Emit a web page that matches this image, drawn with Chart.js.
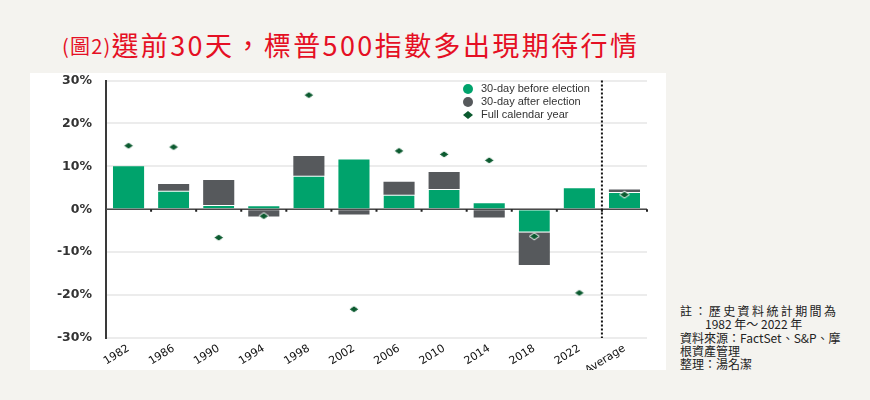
<!DOCTYPE html>
<html>
<head>
<meta charset="utf-8">
<script src="https://cdn.jsdelivr.net/npm/chart.js@4.4.1/dist/chart.umd.min.js"></script>
<style>
  html, body { margin: 0; padding: 0; }
  body {
    width: 870px; height: 400px; overflow: hidden; position: relative;
    background: #f4f3ef; font-family: "Noto Sans CJK TC", sans-serif;
  }
  #title {
    position: absolute; left: 62px; top: 31px; white-space: nowrap;
    color: #e50f24; font-size: 27px; line-height: 27px; letter-spacing: 2.4px; font-weight: 400;
  }
  #title .fig { font-size: 20px; letter-spacing: 1.2px; vertical-align: 2px; }
  #panel { position: absolute; left: 30px; top: 73px; width: 636px; height: 297px; background: #fff; }
  #chartBox { position: absolute; left: 0; top: -14px; width: 636px; height: 311px; }
  #legend {
    position: absolute; left: 433px; top: 9px;
    font: 11px "Liberation Sans", Arial, sans-serif; color: #333;
  }
  #legend div { height: 13px; line-height: 13px; display: flex; align-items: center; }
  #legend .dot { width: 10px; height: 10px; border-radius: 50%; margin-right: 8px; }
  #legend svg { margin-right: 8px; }
  #note {
    position: absolute; left: 680px; top: 304px;
    font-size: 12px; line-height: 13.3px; color: #222; white-space: nowrap;
  }
  #note .l1 { letter-spacing: 2.4px; }
  #note .l2 { padding-left: 25px; }
</style>
</head>
<body>
<div id="title"><span class="fig">(圖2)</span>選前30天，標普500指數多出現期待行情</div>
<div id="panel">
  <div id="chartBox"><canvas id="electionChart"></canvas></div>
  <div id="legend"></div>
</div>
<div id="note">
  <div class="l1">註：歷史資料統計期間為</div>
  <div class="l2">1982 年～ 2022 年</div>
  <div>資料來源：FactSet、S&amp;P、摩</div>
  <div>根資產管理</div>
  <div>整理：湯名潔</div>
</div>
<script>
// S&P 500 returns around US midterm elections (%)
const years = ["1982", "1986", "1990", "1994", "1998", "2002", "2006", "2010", "2014", "2018", "2022", "Average"];
const before = [10.0, 4.3, 1.0, 0.7, 7.8, 11.6, 3.4, 4.7, 1.4, -5.4, 4.9, 4.0];
const after = [0, 1.6, 5.8, -1.7, 4.6, -1.2, 3.0, 4.0, -1.9, -7.6, 0, 0.6];
const fullYear = [14.8, 14.5, -6.6, -1.6, 26.6, -23.3, 13.6, 12.8, 11.4, -6.3, -19.5, 3.4];
const yTicks = [-30, -20, -10, 0, 10, 20, 30];

const labels = ["30-day before election", "30-day after election", "Full calendar year"];
const greenColor = "#00a36c";
const grayColor = "#56595c";
const diamondColor = "#0b5a2f";

// flattened diamond marker
function makeDiamond(w, h, fill, stroke) {
  const c = document.createElement("canvas");
  c.width = w + 2;
  c.height = h + 2;
  const g = c.getContext("2d");
  g.beginPath();
  g.moveTo(c.width / 2, 1);
  g.lineTo(c.width - 1, c.height / 2);
  g.lineTo(c.width / 2, c.height - 1);
  g.lineTo(1, c.height / 2);
  g.closePath();
  g.fillStyle = fill;
  g.fill();
  if (stroke) {
    g.lineWidth = 1;
    g.strokeStyle = stroke;
    g.stroke();
  }
  return c;
}

// thin light line only where the "after" block sits on the "before" block
function splitBorder(c) {
  const b = before[c.dataIndex];
  const a = after[c.dataIndex];
  if (a === 0 || Math.sign(a) !== Math.sign(b)) return 0;
  return b > 0 ? { top: 1 } : { bottom: 1 };
}

// legend
const legendEl = document.getElementById("legend");
legendEl.innerHTML =
  `<div><span class="dot" style="background:${greenColor}"></span>${labels[0]}</div>` +
  `<div><span class="dot" style="background:${grayColor}"></span>${labels[1]}</div>` +
  `<div><svg width="10" height="8"><polygon points="5,0 10,4 5,8 0,4" fill="${diamondColor}"/></svg>${labels[2]}</div>`;

// zero line under the bars, small tick marks and the dotted divider before "Average" on top
const extras = {
  id: "extras",
  beforeDatasetsDraw(chart) {
    const { ctx, chartArea, scales } = chart;
    const y0 = scales.y.getPixelForValue(0);
    ctx.save();
    ctx.strokeStyle = "#4a4a4a";
    ctx.lineWidth = 1.5;
    ctx.beginPath();
    ctx.moveTo(chartArea.left, y0);
    ctx.lineTo(chartArea.right, y0);
    ctx.stroke();
    ctx.restore();
  },
  afterDatasetsDraw(chart) {
    const { ctx, chartArea, scales } = chart;
    const x = scales.x;
    const y0 = scales.y.getPixelForValue(0);
    const half = (x.getPixelForTick(1) - x.getPixelForTick(0)) / 2;
    ctx.save();
    ctx.fillStyle = "#222";
    for (let i = 0; i < years.length; i++) {
      ctx.fillRect(x.getPixelForTick(i) + half - 1, y0, 2, 2.5);
    }
    const dx = x.getPixelForTick(years.length - 1) - half;
    ctx.setLineDash([2, 2]);
    ctx.lineWidth = 2;
    ctx.strokeStyle = "#111";
    ctx.beginPath();
    ctx.moveTo(dx, chartArea.top);
    ctx.lineTo(dx, chartArea.bottom);
    ctx.stroke();
    ctx.restore();
  },
};

Chart.defaults.font.family = "'DejaVu Sans', sans-serif";

const ctx = document.getElementById("electionChart").getContext("2d");
const electionChart = new Chart(ctx, {
  type: "bar",
  data: {
    labels: years,
    datasets: [
      {
        type: "line",
        label: labels[2],
        data: fullYear,
        showLine: false,
        pointStyle: makeDiamond(10, 7, diamondColor, "#ffffff"),
        pointRadius: 5,
        order: 0,
      },
      {
        label: labels[0],
        data: before,
        backgroundColor: greenColor,
        borderColor: "rgba(255,255,255,0.8)",
        borderWidth: splitBorder,
        borderSkipped: false,
        barPercentage: 0.69,
        categoryPercentage: 1,
        order: 1,
      },
      {
        label: labels[1],
        data: after,
        backgroundColor: grayColor,
        borderWidth: 0,
        barPercentage: 0.69,
        categoryPercentage: 1,
        order: 1,
      },
    ],
  },
  options: {
    responsive: true,
    maintainAspectRatio: false,
    animation: false,
    events: [],
    layout: { padding: { top: 0, right: 19, bottom: 0, left: 0 } },
    plugins: { legend: { display: false }, tooltip: { enabled: false } },
    scales: {
      x: {
        stacked: true,
        grid: { display: false, drawTicks: false },
        border: { display: false },
        ticks: {
          autoSkip: false,
          minRotation: 32,
          maxRotation: 32,
          padding: 4,
          color: "#111",
          font: { size: 11 },
        },
        afterFit(s) { s.height = 32; },
      },
      y: {
        stacked: true,
        min: yTicks[0],
        max: yTicks[yTicks.length - 1],
        afterBuildTicks(s) { s.ticks = yTicks.map((v) => ({ value: v })); },
        ticks: {
          padding: 14,
          color: "#333",
          font: { size: 12.5, weight: "bold" },
          callback: (v) => v + "%",
        },
        grid: { color: "#ececec", lineWidth: 2, drawTicks: false },
        border: { display: true, color: "#3a3a3a", width: 2 },
        afterFit(s) { s.width = 76; },
      },
    },
  },
  plugins: [extras],
});
</script>
</body>
</html>
